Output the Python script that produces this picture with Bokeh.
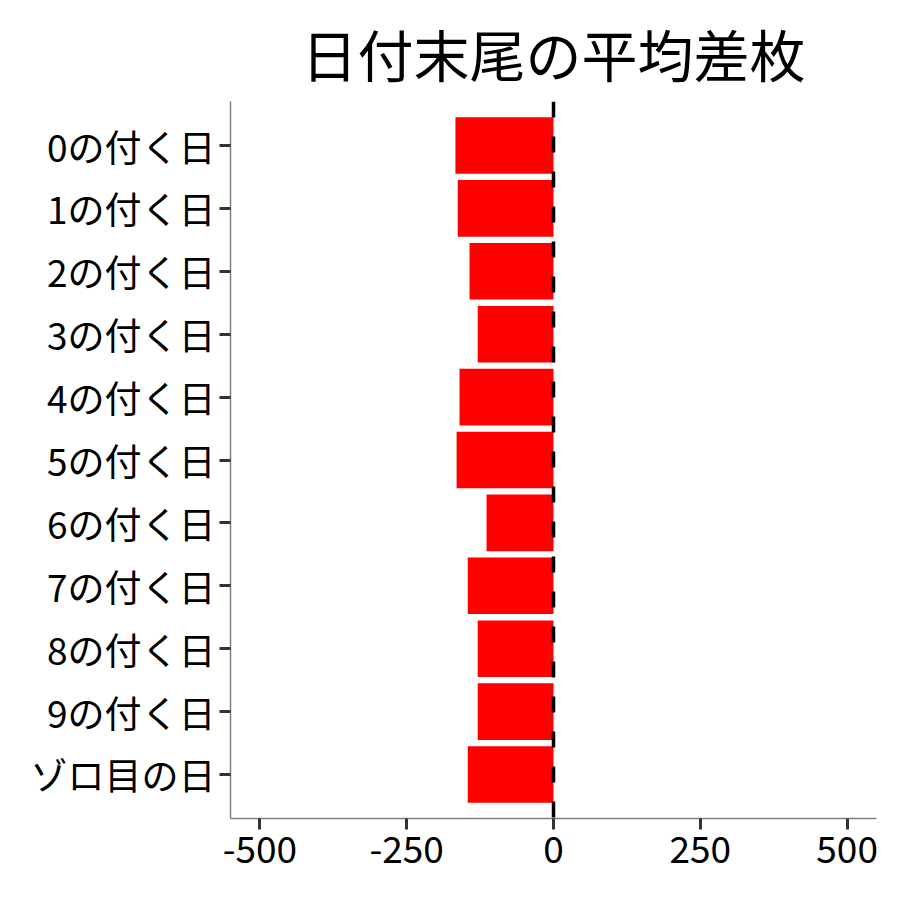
from bokeh.plotting import figure
from bokeh.models import FactorRange, Range1d, FixedTicker, Span, ColumnDataSource
from bokeh.embed import file_html
from bokeh.resources import INLINE

categories = ["0の付く日", "1の付く日", "2の付く日", "3の付く日", "4の付く日",
              "5の付く日", "6の付く日", "7の付く日", "8の付く日", "9の付く日", "ゾロ目の日"]
values = [-167, -163, -143, -129, -160, -165, -114, -146, -129, -129, -146]
x_ticks = [-500, -250, 0, 250, 500]
title_text = "日付末尾の平均差枚"

FONT = "Noto Sans CJK JP"

yr = FactorRange(factors=list(reversed(categories)), range_padding=0.2,
                 range_padding_units="absolute")

p = figure(width=884, height=884, y_range=yr, x_range=Range1d(-550, 550),
           output_backend="svg", toolbar_location=None,
           min_border_left=230, min_border_right=8, min_border_top=101,
           min_border_bottom=66)

src = ColumnDataSource(dict(cat=categories, val=values))
p.hbar(y="cat", right="val", left=0, height=0.9, source=src,
       fill_color="#FF0000", line_color=None)

p.add_layout(Span(location=0, dimension="height", line_color="black",
                  line_width=3.5, line_dash="16 19"))

p.title.text = title_text
p.title.align = "center"
p.title.text_font = FONT
p.title.text_font_size = "56px"
p.title.text_font_style = "normal"
p.title.text_color = "black"
p.title.standoff = 17

p.xaxis.ticker = FixedTicker(ticks=x_ticks)
p.xaxis.major_label_overrides = {t: str(t) for t in x_ticks}
p.xaxis.minor_tick_line_color = None
p.yaxis.minor_tick_line_color = None
for ax in (p.xaxis, p.yaxis):
    ax.axis_line_color = "#808080"
    ax.axis_line_width = 1.5
    ax.major_tick_line_color = "#333333"
    ax.major_tick_line_width = 3
    ax.major_tick_out = 11
    ax.major_tick_in = 0
    ax.major_label_text_font = FONT
    ax.major_label_text_font_size = "37px"
    ax.major_label_text_color = "black"
p.xaxis.major_label_standoff = 6
p.yaxis.major_label_standoff = 4

p.xgrid.grid_line_color = None
p.ygrid.grid_line_color = None
p.outline_line_color = None
p.background_fill_color = "white"
p.border_fill_color = "white"

open("out.html", "w").write(file_html(p, INLINE))
